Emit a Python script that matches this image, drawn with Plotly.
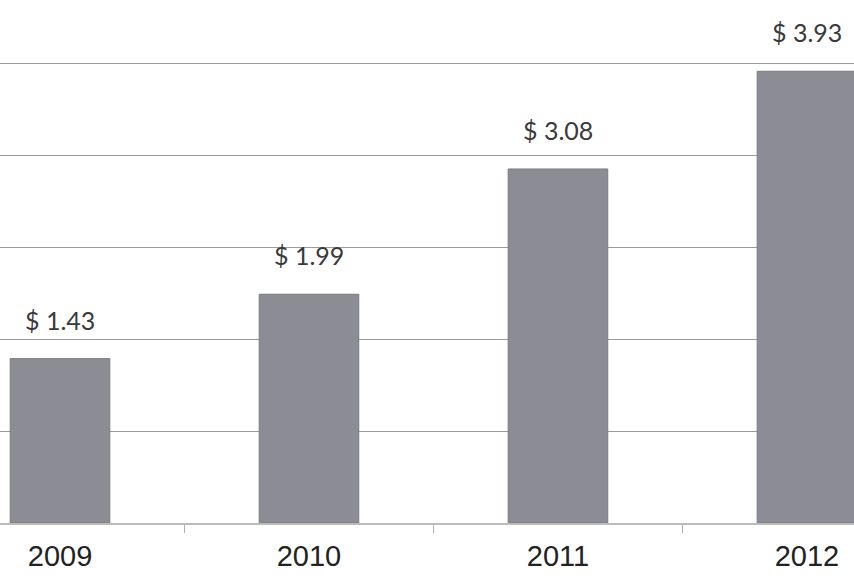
import plotly.graph_objects as go

# Annual values per year
years = ["2009", "2010", "2011", "2012"]
values = [1.43, 1.99, 3.08, 3.93]
labels = ["$ 1.43", "$ 1.99", "$ 3.08", "$ 3.93"]

fig = go.Figure()
fig.add_trace(go.Bar(
    x=years,
    y=values,
    width=0.4,
    marker=dict(color="#8b8c94", line=dict(color="#7a7b83", width=1)),
    hoverinfo="skip",
))

# value labels above each bar (category axis positions by index)
for i, (v, t) in enumerate(zip(values, labels)):
    fig.add_annotation(
        x=i, y=v, text=t, showarrow=False,
        xanchor="center", yanchor="bottom", yshift=22,
        font=dict(family="Lato, Open Sans, sans-serif", size=25, color="#3a3a3a"),
    )

fig.update_layout(
    width=854, height=583,
    margin=dict(l=0, r=0, t=0, b=60),
    paper_bgcolor="white", plot_bgcolor="white",
    showlegend=False,
    xaxis=dict(
        type="category",
        range=[-0.241, 3.189],
        tickson="boundaries",
        ticks="outside", ticklen=8, tickcolor="#b0b0b0", tickwidth=1,
        showgrid=False, zeroline=False,
        showline=True, linecolor="#bbbbbb", linewidth=1.5,
        tickfont=dict(family="Liberation Sans, Arial, sans-serif", size=29, color="#222222"),
        ticklabelstandoff=6,
    ),
    yaxis=dict(
        range=[0, 4.55],
        dtick=0.8, tick0=0,
        showgrid=True, gridcolor="#9a9a9a", gridwidth=1.3,
        showticklabels=False, zeroline=False, showline=False,
    ),
)

fig.write_html("out.html")
